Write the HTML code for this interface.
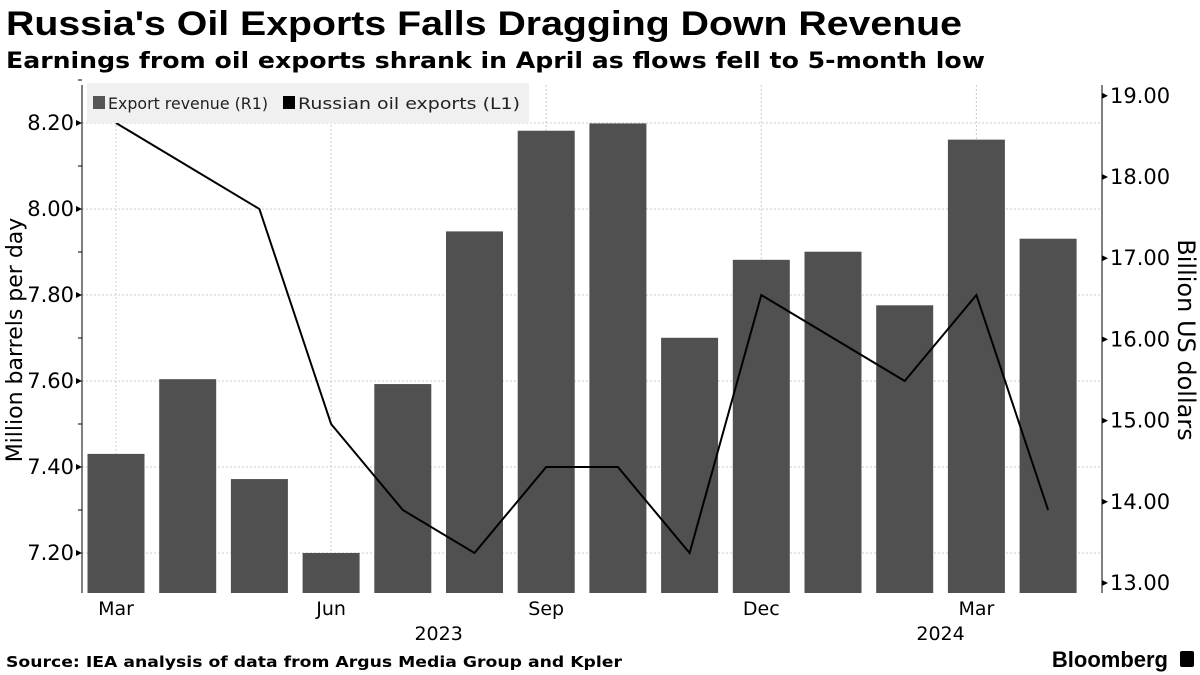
<!DOCTYPE html>
<html><head><meta charset="utf-8"><style>
body{margin:0;background:#fff;font-family:"DejaVu Sans","Liberation Sans",sans-serif;}
svg{display:block}
</style></head><body>
<svg width="1200" height="675" viewBox="0 0 1200 675" id="c">
<text x="6" y="35" font-family="Liberation Sans,sans-serif" font-weight="bold" font-size="34" textLength="956" lengthAdjust="spacingAndGlyphs" fill="#000">Russia's Oil Exports Falls Dragging Down Revenue</text>
<text x="6" y="68" font-family="DejaVu Sans,sans-serif" font-weight="bold" font-size="22" textLength="979" lengthAdjust="spacingAndGlyphs" fill="#000">Earnings from oil exports shrank in April as flows fell to 5-month low</text>
<g id="grid"></g><g id="bars"></g><g id="line"></g><g id="axes"></g>
<rect x="87" y="83" width="442" height="40" fill="#f0f0f0"/>
<rect x="93" y="96" width="12" height="13" fill="#555"/>
<text x="108" y="109" font-size="16" textLength="160" lengthAdjust="spacingAndGlyphs" fill="#222">Export revenue (R1)</text>
<rect x="283" y="96" width="12" height="13" fill="#000"/>
<text x="298" y="109" font-size="16" textLength="222" lengthAdjust="spacingAndGlyphs" fill="#222">Russian oil exports (L1)</text>
<text x="22" y="340" font-size="22" fill="#000" text-anchor="middle" transform="rotate(-90 22 340)">Million barrels per day</text>
<text x="1178" y="340" font-size="24" fill="#000" text-anchor="middle" transform="rotate(90 1178 340)">Billion US dollars</text>
<text x="6" y="667" font-weight="bold" font-size="15" textLength="616" lengthAdjust="spacingAndGlyphs" fill="#000">Source: IEA analysis of data from Argus Media Group and Kpler</text>
<text x="1168" y="667" font-family="Liberation Sans,sans-serif" font-weight="bold" font-size="22" fill="#000" text-anchor="end">Bloomberg</text>
<rect x="1180" y="651" width="14" height="16" rx="2" fill="#000"/>
</svg>
<script>
const months=["Mar","Apr","May","Jun","Jul","Aug","Sep","Oct","Nov","Dec","Jan","Feb","Mar","Apr"];
const revenue=[14.59,15.51,14.28,13.37,15.45,17.33,18.57,18.66,16.02,16.98,17.08,16.42,18.46,17.24];
const exportsL=[8.20,8.10,8.00,7.50,7.30,7.20,7.40,7.40,7.20,7.80,7.70,7.60,7.80,7.30];
const leftTicks=[7.20,7.40,7.60,7.80,8.00,8.20];
const rightTicks=[13,14,15,16,17,18,19];
const xLabels=[[0,"Mar"],[3,"Jun"],[6,"Sep"],[9,"Dec"],[12,"Mar"]];
const yearLabels=[[4.5,"2023"],[11.5,"2024"]];
const NS="http://www.w3.org/2000/svg";
const pTop=85,pBot=593,L=82,R=1102;
const yl=v=>553-(v-7.2)*430;
const yr=v=>583-(v-13)*81.2;
const xc=i=>116+i*71.7;
function mk(p,t,a){const e=document.createElementNS(NS,t);for(const k in a)e.setAttribute(k,a[k]);document.getElementById(p).appendChild(e);return e;}
leftTicks.forEach(v=>{const e=mk("grid","line",{x1:L,x2:R,y1:yl(v),y2:yl(v),stroke:"#ccc","stroke-dasharray":"2,2"});

});
xLabels.forEach(([i])=>{const e=mk("grid","line",{x1:xc(i),x2:xc(i),y1:pTop,y2:pBot,stroke:"#ccc","stroke-dasharray":"2,2"});

});
revenue.forEach((v,i)=>{const e=mk("bars","rect",{x:xc(i)-28.5,y:yr(v),width:57,height:pBot-yr(v),fill:"#505050"});

});
const pl=mk("line","polyline",{points:exportsL.map((v,i)=>xc(i)+","+yl(v)).join(" "),fill:"none",stroke:"#000","stroke-width":2});


let a=mk("axes","line",{x1:L,x2:L,y1:pTop,y2:pBot,stroke:"#000"});


a=mk("axes","line",{x1:R,x2:R,y1:pTop,y2:pBot,stroke:"#000"});


leftTicks.forEach(v=>{mk("axes","path",{d:`M${L-6},${yl(v)-3}L${L},${yl(v)}L${L-6},${yl(v)+3}Z`,fill:"#000"});
mk("axes","line",{x1:L-4,x2:L,y1:yl(v+0.1),y2:yl(v+0.1),stroke:"#000"});
const t=mk("axes","text",{x:L-8,y:yl(v)+7,"text-anchor":"end","font-size":21,fill:"#000"});t.textContent=v.toFixed(2);

});
rightTicks.forEach(v=>{mk("axes","path",{d:`M${R},${yr(v)-3}L${R+6},${yr(v)}L${R},${yr(v)+3}Z`,fill:"#000"});
const t=mk("axes","text",{x:R+8,y:yr(v)+7,"font-size":21,fill:"#000"});t.textContent=v.toFixed(2);

});
xLabels.forEach(([i,s])=>{const t=mk("axes","text",{x:xc(i),y:615,"text-anchor":"middle","font-size":19,fill:"#000"});t.textContent=s;

});
yearLabels.forEach(([i,s])=>{const t=mk("axes","text",{x:xc(i),y:640,"text-anchor":"middle","font-size":19,fill:"#000"});t.textContent=s;

});
</script>
</body></html>
